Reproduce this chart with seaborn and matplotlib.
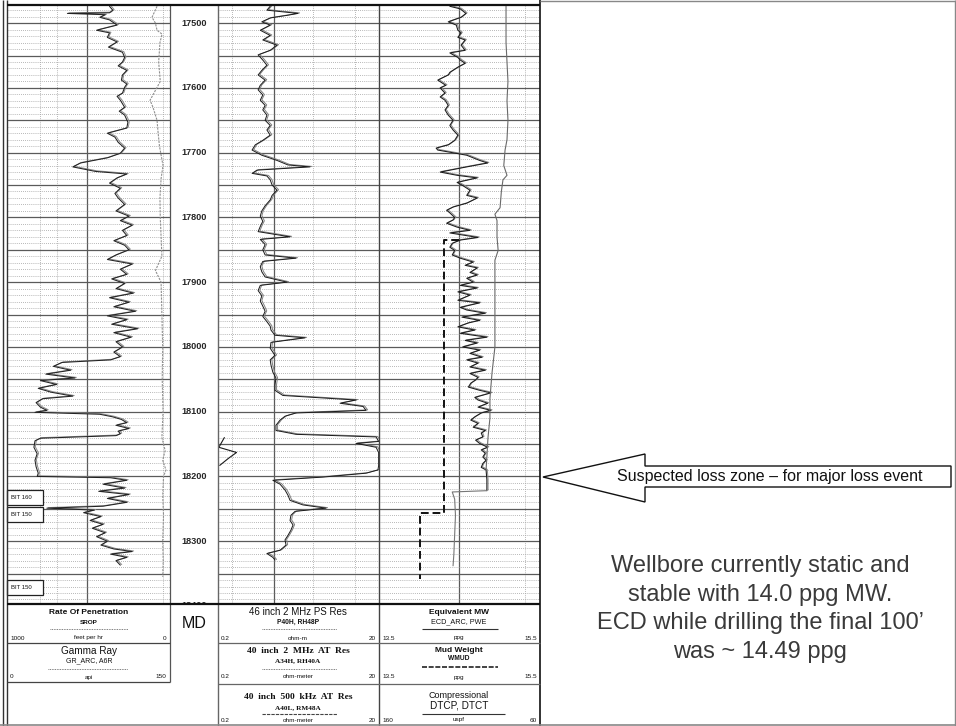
import numpy as np
import matplotlib.pyplot as plt
import matplotlib.transforms as mtransforms
from matplotlib.patches import Polygon, Rectangle
from matplotlib.ticker import FixedLocator
import seaborn as sns

sns.set_style("white")
plt.rcParams['font.family'] = ['Liberation Sans', 'DejaVu Sans']

# gamma ray (api)
gr_depth = [17474, 17480, 17484, 17485, 17487, 17491, 17495, 17503, 17511, 17515,
            17522, 17529, 17537, 17545, 17553, 17560, 17566, 17573, 17580, 17588,
            17594, 17599, 17608, 17613, 17619, 17630, 17636, 17642, 17653, 17662,
            17670, 17676, 17684, 17693, 17701, 17708, 17716, 17722, 17729, 17733,
            17739, 17747, 17755, 17763, 17770, 17780, 17790, 17798, 17805, 17812,
            17820, 17828, 17836, 17843, 17850, 17858, 17865, 17872, 17880, 17888,
            17895, 17902, 17910, 17917, 17924, 17931, 17938, 17945, 17952, 17958,
            17965, 17972, 17978, 17985, 17992, 18000, 18008, 18015, 18020, 18024,
            18030, 18036, 18042, 18048, 18052, 18058, 18064, 18070, 18076, 18080,
            18086, 18093, 18098, 18101, 18104, 18108, 18112, 18117, 18121, 18126,
            18130, 18134, 18137, 18141, 18145, 18155, 18165, 18175, 18185, 18195,
            18200, 18202, 18206, 18212, 18218, 18223, 18228, 18234, 18240, 18246,
            18249, 18252, 18256, 18262, 18268, 18274, 18280, 18287, 18293, 18300,
            18306, 18312, 18316, 18320, 18325, 18330, 18337]
gr_val = [94, 97, 94, 55, 90, 85, 94, 101, 82, 94,
          92, 101, 93, 106, 108, 106, 102, 110, 106, 105,
          110, 108, 106, 101, 104, 108, 103, 108, 111, 110,
          92, 99, 102, 108, 104, 92, 67, 60, 81, 110,
          101, 94, 104, 99, 102, 108, 100, 112, 104, 115,
          106, 110, 98, 108, 112, 100, 92, 115, 104, 110,
          96, 108, 100, 116, 94, 112, 98, 118, 92, 110,
          96, 120, 98, 114, 100, 106, 98, 104, 95, 50,
          42, 58, 35, 62, 30, 45, 28, 40, 60, 32,
          26, 30, 36, 25, 85, 97, 105, 110, 100, 112,
          102, 104, 100, 30, 25, 24, 27, 25, 26, 28,
          27, 95, 110, 88, 108, 84, 112, 92, 110, 88,
          36, 80, 70, 86, 76, 88, 78, 90, 82, 92,
          86, 98, 115, 95, 110, 100, 104]

# rate of penetration (ft/hr)
rop_depth = [17474, 17491, 17500, 17511, 17517, 17530, 17560, 17590, 17619, 17630,
             17650, 17665, 17690, 17720, 17740, 17770, 17800, 17830, 17860, 17882,
             17900, 17950, 18000, 18050, 18100, 18140, 18160, 18175, 18190, 18200,
             18230, 18260, 18300, 18330, 18355]
rop_val = [80, 111, 90, 80, 49, 62, 70, 60, 123, 105,
           80, 75, 65, 43, 55, 62, 60, 55, 50, 90,
           55, 50, 45, 48, 43, 50, 30, 45, 25, 40,
           45, 40, 45, 42, 45]

# resistivity (ohm-m)
res_depth = [17474, 17480, 17485, 17488, 17492, 17498, 17503, 17511, 17519, 17526,
             17534, 17542, 17549, 17557, 17565, 17573, 17580, 17588, 17596, 17603,
             17611, 17619, 17627, 17634, 17642, 17650, 17658, 17665, 17673, 17681,
             17688, 17696, 17704, 17712, 17719, 17722, 17727, 17732, 17736, 17742,
             17750, 17758, 17766, 17773, 17782, 17790, 17798, 17806, 17814, 17822,
             17830, 17834, 17842, 17850, 17858, 17863, 17868, 17876, 17884, 17892,
             17900, 17905, 17913, 17921, 17929, 17937, 17945, 17953, 17961, 17968,
             17974, 17982, 17986, 17993, 18002, 18013, 18020, 18028, 18039, 18048,
             18059, 18067, 18075, 18082, 18087, 18092, 18098, 18102, 18107, 18113,
             18121, 18129, 18135, 18139, 18146, 18149, 18155, 18163, 18172, 18183,
             18190, 18195, 18201, 18206, 18212, 18221, 18229, 18237, 18244, 18249,
             18254, 18260, 18268, 18275, 18283, 18291, 18298, 18306, 18314, 18319,
             18325, 18329]
res_val = [0.89, 0.81, 1.97, 1.44, 0.89, 0.70, 0.89, 0.67, 0.89, 0.72,
           1.08, 0.89, 0.63, 0.72, 0.81, 0.70, 0.63, 0.77, 0.67, 0.63,
           0.72, 0.67, 0.77, 0.72, 0.81, 0.77, 0.89, 0.81, 0.89, 0.72,
           0.58, 0.53, 0.70, 1.08, 1.48, 2.78, 0.61, 0.53, 0.81, 0.89,
           0.94, 1.08, 0.94, 0.89, 0.77, 0.70, 0.67, 0.72, 0.67, 0.63,
           1.57, 0.67, 0.77, 0.72, 0.77, 1.86, 0.72, 0.67, 0.70, 0.77,
           1.44, 0.67, 0.63, 0.70, 0.67, 0.72, 0.77, 0.72, 0.81, 0.89,
           0.91, 1.02, 2.41, 0.91, 0.89, 1.02, 0.89, 0.91, 0.96, 1.05,
           1.02, 1.02, 1.28, 10.4, 6.56, 12.7, 13.8, 1.86, 1.36, 1.18,
           1.05, 1.05, 1.86, 18.4, 19.8, 10.4, 18.4, 19.8, 19.8, 19.8,
           19.4, 13.8, 4.03, 0.96, 1.18, 1.36, 1.48, 1.57, 2.27, 4.39,
           1.81, 1.61, 1.57, 1.71, 1.61, 1.48, 1.36, 1.40, 1.18, 0.81,
           0.96, 1.02]
# readings above 20 ohm-m, drawn wrapped on the backup scale
res_wrap_depth = [18140, 18155, 18163, 18172, 18183]
res_wrap_val = [24, 20.5, 34, 27, 21]

# equivalent circulating density (ppg)
ecd_depth = [17474, 17478, 17485, 17491, 17498, 17503, 17511, 17515, 17522, 17526,
             17534, 17542, 17546, 17553, 17557, 17562, 17568, 17576, 17580, 17588,
             17596, 17600, 17608, 17614, 17619, 17627, 17634, 17642, 17650, 17658,
             17665, 17673, 17681, 17688, 17693, 17696, 17704, 17712, 17716, 17722,
             17730, 17735, 17739, 17746, 17750, 17758, 17766, 17770, 17778, 17784,
             17789, 17793, 17800, 17804, 17809, 17815, 17820, 17824, 17831, 17835,
             17840, 17846, 17851, 17858, 17863, 17869, 17874, 17878, 17885, 17889,
             17894, 17900, 17905, 17909, 17915, 17920, 17928, 17932, 17939, 17943,
             17948, 17954, 17959, 17963, 17969, 17974, 17979, 17985, 17990, 17994,
             18000, 18005, 18010, 18016, 18020, 18025, 18031, 18036, 18041, 18047,
             18051, 18056, 18062, 18067, 18071, 18078, 18082, 18087, 18093, 18098,
             18102, 18108, 18113, 18118, 18124, 18129, 18133, 18139, 18144, 18149,
             18155, 18159, 18164, 18170, 18175, 18180, 18186, 18190, 18205, 18222]
ecd_val = [14.38, 14.51, 14.58, 14.52, 14.36, 14.46, 14.48, 14.52, 14.48, 14.57,
           14.52, 14.57, 14.38, 14.48, 14.51, 14.57, 14.48, 14.38, 14.36, 14.23,
           14.33, 14.26, 14.32, 14.26, 14.32, 14.36, 14.32, 14.36, 14.42, 14.38,
           14.42, 14.48, 14.44, 14.36, 14.21, 14.23, 14.59, 14.75, 14.85, 14.59,
           14.26, 14.47, 14.72, 14.47, 14.53, 14.63, 14.59, 14.72, 14.59, 14.42,
           14.34, 14.38, 14.44, 14.42, 14.34, 14.47, 14.63, 14.38, 14.73, 14.51,
           14.41, 14.38, 14.44, 14.41, 14.51, 14.67, 14.57, 14.72, 14.63, 14.72,
           14.59, 14.67, 14.51, 14.72, 14.48, 14.63, 14.48, 14.75, 14.51, 14.59,
           14.82, 14.53, 14.75, 14.61, 14.48, 14.69, 14.51, 14.84, 14.57, 14.72,
           14.54, 14.75, 14.63, 14.78, 14.59, 14.73, 14.63, 14.82, 14.63, 14.73,
           14.70, 14.64, 14.61, 14.75, 14.89, 14.69, 14.73, 14.85, 14.73, 14.89,
           14.77, 14.69, 14.64, 14.73, 14.67, 14.82, 14.77, 14.79, 14.70, 14.75,
           14.85, 14.77, 14.82, 14.79, 14.83, 14.79, 14.77, 14.83, 14.84, 14.84]
# ECD after the last stand (pumps off, lighter trace)
ecd_tail_depth = [18222, 18224, 18235, 18260, 18290, 18320, 18338]
ecd_tail_val = [14.84, 14.41, 14.44, 14.45, 14.44, 14.43, 14.42]

# mud weight (ppg)
mw_depth = [17835, 17835, 18257, 18257, 18358]
mw_val = [14.49, 14.31, 14.31, 14.01, 14.01]

# compressional slowness (us/ft)
dt_depth = [17474, 17500, 17530, 17560, 17590, 17620, 17650, 17680, 17696, 17720,
            17735, 17742, 17760, 17785, 17795, 17805, 17830, 17851, 17866, 17900,
            17950, 18000, 18040, 18080, 18110, 18140, 18170, 18190]
dt_val = [81.1, 81.1, 81.1, 80.5, 79.9, 80.5, 79.9, 80.5, 81.7, 82.5,
          80.5, 83.0, 84.0, 84.8, 88.0, 86.7, 86.7, 86.0, 88.0, 88.0,
          88.0, 88.0, 89.8, 91.1, 91.1, 92.3, 93.0, 93.5]

md_labels = [17500, 17600, 17700, 17800, 17900, 18000, 18100, 18200, 18300, 18400]
bit_labels = ["BIT 160", "BIT 150", "BIT 150"]

W, H = 956, 726
top_px, bot_px = 5, 604
d_top, d_bot = 17472, 18397

fig = plt.figure(figsize=(9.56, 7.26), dpi=100)


def rect(x0, x1):
    return [x0 / W, 1 - bot_px / H, (x1 - x0) / W, (bot_px - top_px) / H]


def setup_track(ax, xmaj, xmin):
    ax.yaxis.set_major_locator(FixedLocator(np.arange(17500, 18401, 50)))
    ax.yaxis.set_minor_locator(FixedLocator(np.arange(17480, 18400, 10)))
    ax.xaxis.set_major_locator(FixedLocator(xmaj))
    ax.xaxis.set_minor_locator(FixedLocator(xmin))
    ax.grid(which='major', color='#5a5a5a', lw=0.9, ls='-')
    ax.grid(which='minor', color='#a0a0a0', lw=0.6, ls=(0, (1, 1.5)))
    ax.tick_params(which='both', length=0, labelbottom=False, labelleft=False,
                   labeltop=False)
    for s in ax.spines.values():
        s.set_visible(False)
    ax.set_axisbelow(True)
    ax.set_xlabel('')
    ax.set_ylabel('')


def clean(ax):
    ax.tick_params(which='both', length=0, labelbottom=False, labelleft=False,
                   labeltop=False)
    for s in ax.spines.values():
        s.set_visible(False)
    ax.grid(False)
    ax.set_xlabel('')
    ax.set_ylabel('')


def shift_last(ax, dx, dy):
    # second sensor trace drawn a hair off the first one
    ax.lines[-1].set_transform(ax.transData + mtransforms.ScaledTranslation(
        dx, dy, fig.dpi_scale_trans))


# track 1: gamma ray + ROP
ax1 = fig.add_axes(rect(8, 170))
sns.lineplot(x=gr_val, y=gr_depth, sort=False, estimator=None, ax=ax1,
             color='#8c8c8c', lw=0.7)
shift_last(ax1, 0.014, 0.006)
sns.lineplot(x=gr_val, y=gr_depth, sort=False, estimator=None, ax=ax1,
             color='#222222', lw=0.75)
ax1.set_xlim(0, 150)
setup_track(ax1, [73], [29.6, 45.4, 143.5])
ax1r = ax1.twiny()
sns.lineplot(x=rop_val, y=rop_depth, sort=False, estimator=None, ax=ax1r,
             color='#909090', lw=0.8, ls=(0, (2, 1)))
ax1r.set_xlim(1000, 0)
clean(ax1r)
ax1.set_ylim(d_bot, d_top)

# depth column
axmd = fig.add_axes(rect(170, 218))
axmd.set_ylim(d_bot, d_top)
axmd.set_xlim(0, 1)
clean(axmd)
for d in md_labels:
    axmd.text(0.5, d, str(d), transform=axmd.get_yaxis_transform(), ha='center',
              va='center', fontsize=6.6, fontweight='bold', clip_on=True)

# track 2: resistivity
ax2 = fig.add_axes(rect(218, 379))
ax2.set_xscale('log')
sns.lineplot(x=res_val, y=res_depth, sort=False, estimator=None, ax=ax2,
             color='#808080', lw=0.7)
shift_last(ax2, 0.016, 0.005)
sns.lineplot(x=res_val, y=res_depth, sort=False, estimator=None, ax=ax2,
             color='#1a1a1a', lw=0.7)
sns.lineplot(x=np.array(res_wrap_val) / 100, y=res_wrap_depth, sort=False,
             estimator=None, ax=ax2, color='#1a1a1a', lw=0.8)
ax2.set_xlim(0.2, 20)
setup_track(ax2, [1.0], [0.3, 3.0, 10.0])
ax2.set_ylim(d_bot, d_top)

# track 3: ECD, mud weight, DT
ax3 = fig.add_axes(rect(379, 540))
sns.lineplot(x=ecd_val, y=ecd_depth, sort=False, estimator=None, ax=ax3,
             color='#8a8a8a', lw=0.7)
shift_last(ax3, 0.012, 0.006)
sns.lineplot(x=ecd_val, y=ecd_depth, sort=False, estimator=None, ax=ax3,
             color='#1a1a1a', lw=0.75)
sns.lineplot(x=ecd_tail_val, y=ecd_tail_depth, sort=False, estimator=None,
             ax=ax3, color='#777777', lw=0.8)
sns.lineplot(x=mw_val, y=mw_depth, sort=False, estimator=None, ax=ax3,
             color='#111111', lw=1.4, ls=(0, (4, 2)))
ax3.set_xlim(13.5, 15.5)
setup_track(ax3, [14.49], [15.31])
ax3r = ax3.twiny()
sns.lineplot(x=dt_val, y=dt_depth, sort=False, estimator=None, ax=ax3r,
             color='#6a6a6a', lw=0.8)
ax3r.set_xlim(160, 60)
clean(ax3r)
ax3.set_ylim(d_bot, d_top)

# overlay in pixel coordinates for frame, header and notes
ov = fig.add_axes([0, 0, 1, 1], zorder=10)
ov.set_xlim(0, W)
ov.set_ylim(H, 0)
ov.axis('off')
ov.patch.set_alpha(0)


def vline(x, y0, y1, c='#444444', lw=1.0):
    ov.plot([x, x], [y0, y1], color=c, lw=lw, solid_capstyle='butt')


def hline(y, x0, x1, c='#444444', lw=1.0, ls='-'):
    ov.plot([x0, x1], [y, y], color=c, lw=lw, ls=ls, solid_capstyle='butt')


def txt(x, y, s, size=4.6, weight='normal', ha='center', family=None):
    ov.text(x, y, s, fontsize=size, fontweight=weight, ha=ha, va='center',
            family=family or ['Liberation Sans', 'DejaVu Sans'], color='#111111')


vline(3.5, 0, H, '#333333', 1.0)
vline(7, 0, H, '#333333', 1.0)
vline(540, 0, H, '#111111', 1.2)
vline(955, 0, H, '#888888', 1.0)
vline(170, top_px, 682, '#555555', 0.9)
vline(218, top_px, H, '#666666', 1.0)
vline(379, top_px, H, '#444444', 1.0)
hline(0.5, 540, W, '#888888', 1.0)
hline(top_px, 7, 540, '#111111', 1.6)
hline(bot_px, 7, 540, '#111111', 1.6)
hline(724.5, 0, W, '#888888', 1.2)
for y in [643, 682]:
    hline(y, 7, 170, '#444444', 0.9)
for y in [643, 684]:
    hline(y, 218, 540, '#666666', 0.9)

# track 1 header
txt(89, 612, "Rate Of Penetration", 6, 'bold')
txt(89, 622, "SROP", 4.6, 'bold')
hline(629, 50, 128, '#555555', 0.6, (0, (1, 1)))
txt(10, 638, "1000", ha='left')
txt(89, 638, "feet per hr")
txt(166, 638, "0", ha='right')
txt(89, 651, "Gamma Ray", 7.2)
txt(89, 661, "GR_ARC, A6R", 5)
hline(669, 48, 128, '#555555', 0.6, (0, (1, 1)))
txt(10, 677, "0", ha='left')
txt(89, 677, "api")
txt(166, 677, "150", ha='right')

txt(194, 624, "MD", 11.5)

# track 2 header
serif = ['Liberation Serif', 'DejaVu Serif']
txt(298, 612, "46 inch 2 MHz PS Res", 7)
txt(298, 622, "P40H, RH48P", 4.8, 'bold')
hline(629, 262, 337, '#555555', 0.6, (0, (1, 1)))
txt(221, 638, "0.2", ha='left')
txt(298, 638, "ohm-m")
txt(376, 638, "20", ha='right')
txt(298, 651, "40  inch  2  MHz  AT  Res", 6.8, 'bold', family=serif)
txt(298, 661, "A34H, RH40A", 5.2, 'bold', family=serif)
hline(669, 262, 337, '#555555', 0.6, (0, (1, 1)))
txt(221, 677, "0.2", ha='left')
txt(298, 677, "ohm-meter")
txt(376, 677, "20", ha='right')
txt(298, 697, "40  inch  500  kHz  AT  Res", 6.8, 'bold', family=serif)
txt(298, 708, "A40L, RM48A", 5.2, 'bold', family=serif)
hline(714, 262, 337, '#444444', 0.8, (0, (3, 1)))
txt(221, 720, "0.2", ha='left')
txt(298, 720, "ohm-meter")
txt(376, 720, "20", ha='right')

# track 3 header
txt(459, 612, "Equivalent MW", 6, 'bold')
txt(459, 622, "ECD_ARC, PWE", 5.2)
hline(629, 422, 498, '#333333', 0.8)
txt(382, 638, "13.5", ha='left')
txt(459, 638, "ppg")
txt(537, 638, "15.5", ha='right')
txt(459, 650, "Mud Weight", 6, 'bold')
txt(459, 659, "WMUD", 4.8, 'bold')
hline(667, 422, 498, '#222222', 1.2, (0, (3, 1)))
txt(382, 677, "13.5", ha='left')
txt(459, 677, "ppg")
txt(537, 677, "15.5", ha='right')
txt(459, 696, "Compressional", 6.5)
txt(459, 706, "DTCP, DTCT", 7.2)
hline(714, 422, 505, '#333333', 0.8)
txt(382, 720, "160", ha='left')
txt(459, 719, "uspf")
txt(537, 720, "60", ha='right')

# bit run boxes in track 1
for (y0, lab) in zip([490, 507, 580], bit_labels):
    ov.add_patch(Rectangle((7, y0), 36, 15, fc='white', ec='#222222', lw=0.9))
    txt(11, y0 + 7.5, lab, 4.3, ha='left')

# loss zone arrow
arrow = Polygon([(543, 477), (645, 454), (645, 466), (951, 466), (951, 487),
                 (645, 487), (645, 502)], closed=True, fc='white', ec='#111111',
                lw=1.0)
ov.add_patch(arrow)
ov.text(770, 477, "Suspected loss zone \u2013 for major loss event", fontsize=11.5,
        ha='center', va='center', color='#111111')

ov.text(760, 609, "Wellbore currently static and\nstable with 14.0 ppg MW.\n"
        "ECD while drilling the final 100\u2019\nwas ~ 14.49 ppg",
        fontsize=17, ha='center', va='center', linespacing=1.38, color='#3a3a3a')

plt.savefig("out.png", dpi=100)
